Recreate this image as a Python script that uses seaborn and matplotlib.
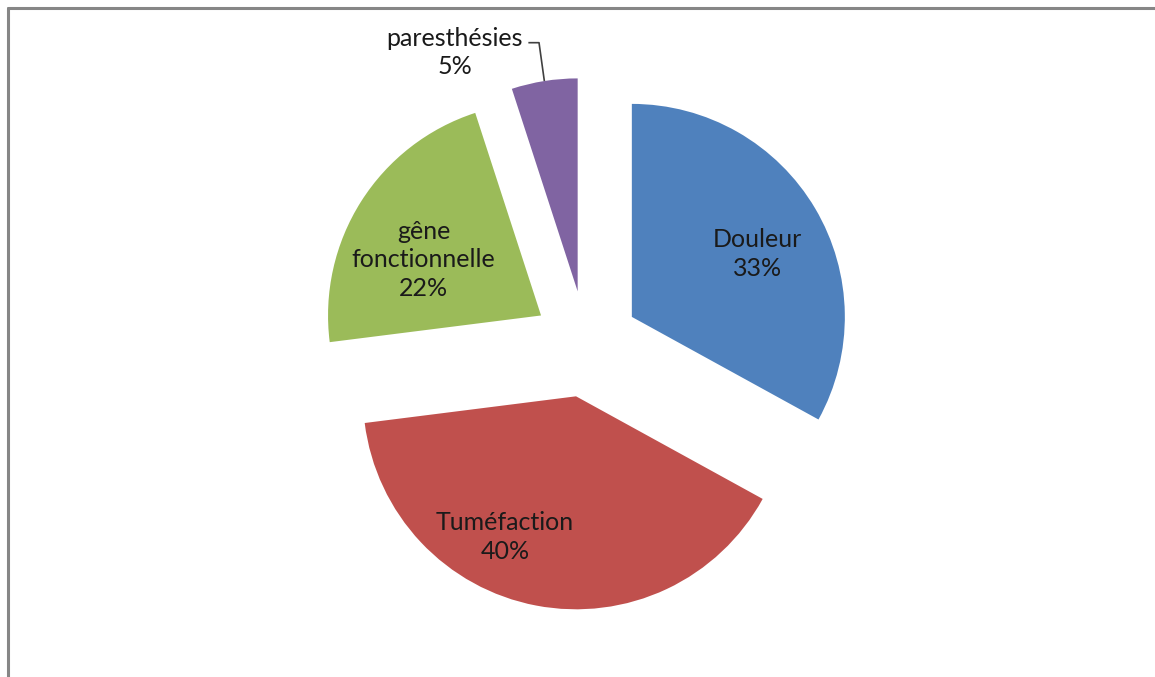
import numpy as np
import matplotlib
matplotlib.use("Agg")
import matplotlib.pyplot as plt
import seaborn as sns

# Symptom shares (percent), clockwise from 12 o'clock
categories = ["Douleur", "Tuméfaction", "gêne fonctionnelle", "paresthésies"]
shares = [33, 40, 22, 5]
label_lines = ["Douleur", "Tuméfaction", "gêne\nfonctionnelle", "paresthésies"]

sns.set_theme(style="white")
plt.rcParams["font.family"] = ["Lato", "DejaVu Sans"]

colors = ["#4F81BD", "#C0504D", "#9BBB59", "#8064A2"]

W, H = 1155, 677
fig = plt.figure(figsize=(W / 100, H / 100), dpi=100)
ax = fig.add_axes([0, 0, 1, 1])

R = 213.0  # pie radius in pixels
cx, cy = 586.0, 344.0  # pie centre in pixels (top-left origin)

wedges, _ = ax.pie(
    shares,
    colors=colors,
    startangle=90,
    counterclock=False,
    explode=[0.25] * len(shares),
    radius=1.0,
    center=(0, 0),
    wedgeprops=dict(linewidth=0),
)
ax.set_xlim(-cx / R, (W - cx) / R)
ax.set_ylim(-(H - cy) / R, cy / R)
ax.set_aspect("equal")
ax.axis("off")

FS = 18
LS = 1.28

# inside labels: (angle offset in degrees, radial fraction)
inside_place = {0: (-4, 0.66), 1: (-16, 0.74), 2: (7, 0.61)}
for i, w in enumerate(wedges):
    mid = 0.5 * (w.theta1 + w.theta2)
    wx, wy = w.center
    text = f"{label_lines[i]}\n{shares[i]}%"
    if i in inside_place:
        off, frac = inside_place[i]
        a = np.deg2rad(mid + off)
        ax.text(wx + frac * np.cos(a), wy + frac * np.sin(a), text,
                ha="center", va="center", fontsize=FS, color="#1a1a1a",
                linespacing=LS)
    else:
        a = np.deg2rad(mid)
        ex, ey = wx + np.cos(a), wy + np.sin(a)
        tx, ty = ex - 0.42, ey + 0.135
        ax.text(tx, ty, text, ha="center", va="center", fontsize=FS,
                color="#1a1a1a", linespacing=LS)
        ax.plot([tx + 0.345, tx + 0.395, ex], [ty + 0.045, ty + 0.045, ey],
                color="#404040", linewidth=1.2, solid_capstyle="butt")

# chart-area frame (top and left edges visible)
fig.add_artist(plt.Line2D([7.5 / W, 1], [1 - 8 / H, 1 - 8 / H],
                          transform=fig.transFigure, color="#868686", linewidth=2.2))
fig.add_artist(plt.Line2D([7.5 / W, 7.5 / W], [0, 1 - 8 / H],
                          transform=fig.transFigure, color="#868686", linewidth=2.2))

fig.savefig("out.png", dpi=100, facecolor="white")
